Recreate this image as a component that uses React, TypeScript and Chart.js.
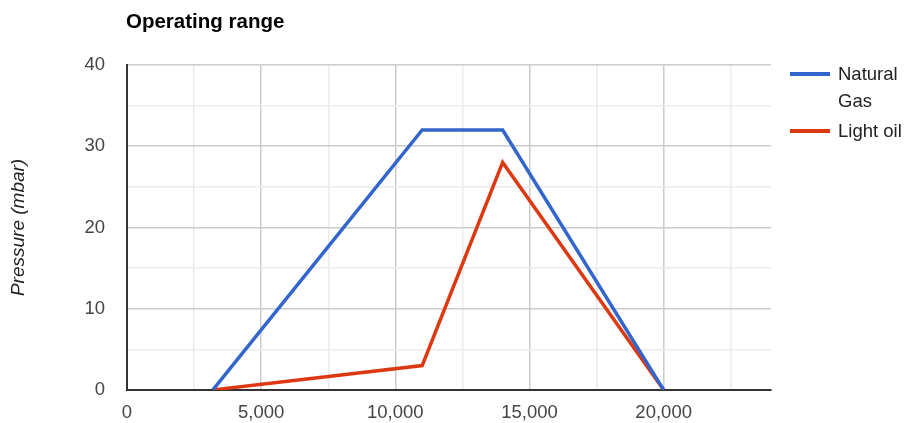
import React, { useEffect, useRef } from "react";
import { Chart, registerables } from "chart.js";

Chart.register(...registerables);

const chartTitle = "Operating range";
const yAxisTitle = "Pressure (mbar)";
const seriesNames = ["Natural Gas", "Light oil"];
const seriesColors = ["#3366CC", "#DC3912"];
const gasX = [3200, 11000, 14000, 20000];
const gasY = [0, 32, 32, 0];
const oilX = [3200, 11000, 14000, 20000];
const oilY = [0, 3, 28, 0];
const xMin = 0;
const xMax = 24000;
const xGridValues = [0, 2500, 5000, 7500, 10000, 12500, 15000, 17500, 20000, 22500];
const xLabelValues = [0, 5000, 10000, 15000, 20000];
const yMin = 0;
const yMax = 40;
const yGridValues = [0, 5, 10, 15, 20, 25, 30, 35, 40];
const yLabelValues = [0, 10, 20, 30, 40];

const FONT = "'Liberation Sans', Arial, sans-serif";

const overlayPlugin = {
  id: "overlay",
  afterDraw(chart: any) {
    const ctx = chart.ctx;
    ctx.save();
    ctx.fillStyle = "#000";
    ctx.font = `bold 20.5px ${FONT}`;
    ctx.textAlign = "left";
    ctx.textBaseline = "alphabetic";
    ctx.fillText(chartTitle, 126, 27.5);
    const entries = [
      { lines: ["Natural", "Gas"], lineY: 74, baseY: 80 },
      { lines: ["Light oil"], lineY: 131, baseY: 137 },
    ];
    ctx.font = `18.5px ${FONT}`;
    entries.forEach((e, i) => {
      ctx.strokeStyle = seriesColors[i];
      ctx.lineWidth = 4;
      ctx.beginPath();
      ctx.moveTo(790, e.lineY);
      ctx.lineTo(830, e.lineY);
      ctx.stroke();
      ctx.fillStyle = "#222";
      e.lines.forEach((t, j) => ctx.fillText(t, 838, e.baseY + j * 26.5));
    });
    ctx.restore();
  },
};

export default function App() {
  const ref = useRef<HTMLCanvasElement | null>(null);
  useEffect(() => {
    document.body.style.margin = "0";
    const canvas = ref.current;
    if (!canvas) return;
    const gridColor = (labels: number[]) => (c: any) => {
      const v = c.tick ? c.tick.value : NaN;
      if (v === 0) return "rgba(0,0,0,0)";
      return labels.includes(v) ? "#cccccc" : "#ebebeb";
    };
    const chart = new Chart(canvas, {
      type: "line",
      data: {
        datasets: [
          {
            label: seriesNames[0],
            data: gasX.map((x, i) => ({ x, y: gasY[i] })),
            borderColor: seriesColors[0],
            backgroundColor: seriesColors[0],
            borderWidth: 3.5,
            pointRadius: 0,
            tension: 0,
          },
          {
            label: seriesNames[1],
            data: oilX.map((x, i) => ({ x, y: oilY[i] })),
            borderColor: seriesColors[1],
            backgroundColor: seriesColors[1],
            borderWidth: 3.5,
            pointRadius: 0,
            tension: 0,
          },
        ],
      },
      options: {
        animation: false,
        responsive: false,
        devicePixelRatio: 1,
        layout: { padding: { top: 65, right: 138, left: 0, bottom: 0 } },
        plugins: {
          legend: { display: false },
          title: { display: false },
          tooltip: { enabled: false },
        },
        scales: {
          x: {
            type: "linear",
            min: xMin,
            max: xMax,
            afterBuildTicks: (s: any) => {
              s.ticks = xGridValues.map((v) => ({ value: v }));
            },
            afterFit: (s: any) => {
              s.height = 32;
            },
            ticks: {
              autoSkip: false,
              maxRotation: 0,
              padding: 12,
              color: "#444",
              font: { family: FONT, size: 18.5 },
              callback: (v: any) =>
                xLabelValues.includes(Number(v)) ? Number(v).toLocaleString("en-US") : "",
            },
            grid: {
              drawTicks: false,
              lineWidth: 1.5,
              color: gridColor(xLabelValues),
            },
            border: { display: true, color: "#333", width: 2 },
          },
          y: {
            type: "linear",
            min: yMin,
            max: yMax,
            afterBuildTicks: (s: any) => {
              s.ticks = yGridValues.map((v) => ({ value: v }));
            },
            afterFit: (s: any) => {
              s.width = 127;
            },
            ticks: {
              autoSkip: false,
              padding: 22,
              color: "#444",
              font: { family: FONT, size: 18.5 },
              callback: (v: any) => (yLabelValues.includes(Number(v)) ? String(v) : ""),
            },
            grid: {
              drawTicks: false,
              lineWidth: 1.5,
              color: gridColor(yLabelValues),
            },
            border: { display: true, color: "#333", width: 2 },
            title: {
              display: true,
              text: yAxisTitle,
              color: "#222",
              font: { family: FONT, size: 19, style: "italic", lineHeight: 1.2 },
              padding: { top: 7, bottom: 0 },
            },
          },
        },
      },
      plugins: [overlayPlugin],
    } as any);
    return () => chart.destroy();
  }, []);
  return (
    <div style={{ width: 909, height: 423, background: "#fff" }}>
      <canvas ref={ref} width={909} height={423} style={{ display: "block" }} />
    </div>
  );
}
